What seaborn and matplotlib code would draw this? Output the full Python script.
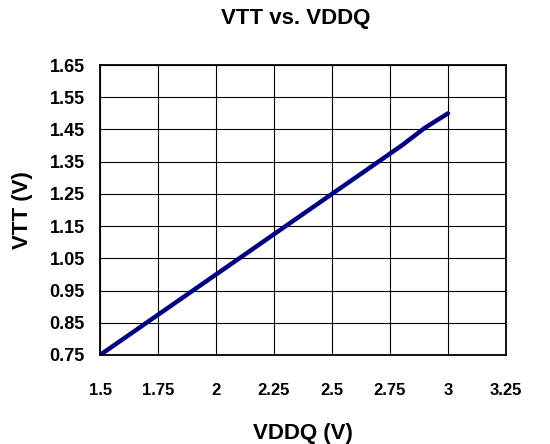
import matplotlib
matplotlib.use("Agg")
import matplotlib.pyplot as plt
import seaborn as sns
import pandas as pd

vddq = [1.5, 1.6, 1.7, 1.8, 1.9, 2.0, 2.1, 2.2, 2.3, 2.4, 2.5, 2.6, 2.7, 2.8, 2.9, 3.0]
vtt = [0.75, 0.80, 0.85, 0.90, 0.95, 1.00, 1.05, 1.10, 1.15, 1.20, 1.25, 1.30, 1.35, 1.40, 1.455, 1.50]
x_ticks = [1.5, 1.75, 2, 2.25, 2.5, 2.75, 3, 3.25]
x_labels = ["1.5", "1.75", "2", "2.25", "2.5", "2.75", "3", "3.25"]
y_ticks = [0.75, 0.85, 0.95, 1.05, 1.15, 1.25, 1.35, 1.45, 1.55, 1.65]
y_labels = ["0.75", "0.85", "0.95", "1.05", "1.15", "1.25", "1.35", "1.45", "1.55", "1.65"]

sns.set_theme(style="white")
plt.rcParams['font.family'] = ['Liberation Sans', 'DejaVu Sans']
plt.rcParams['text.color'] = 'black'
plt.rcParams['axes.labelcolor'] = 'black'
plt.rcParams['xtick.color'] = 'black'
plt.rcParams['ytick.color'] = 'black'

df = pd.DataFrame({"VDDQ": vddq, "VTT": vtt})

fig = plt.figure(figsize=(5.5, 4.44), dpi=100)
ax = fig.add_axes([0.182, 0.2005, 0.738, 0.653])
sns.lineplot(data=df, x="VDDQ", y="VTT", ax=ax, color="#000080", linewidth=3.2)

ax.set_xlim(1.5, 3.25)
ax.set_ylim(0.75, 1.65)
ax.set_xticks(x_ticks)
ax.set_xticklabels(x_labels, fontsize=12, fontweight="bold", color="black")
ax.set_yticks(y_ticks)
ax.set_yticklabels(y_labels, fontsize=13, fontweight="bold", color="black")
ax.tick_params(axis="x", length=0, pad=20, colors="black")
ax.tick_params(axis="y", length=0, pad=11, colors="black")
ax.grid(True, color="black", linewidth=0.8)
for s in ax.spines.values():
    s.set_color("black")
    s.set_linewidth(1.3)
    s.set_visible(True)

ax.set_xlabel("VDDQ (V)", fontsize=16, fontweight="bold", labelpad=18, color="black")
ax.set_ylabel("VTT (V)", fontsize=16, fontweight="bold", labelpad=12, color="black")
fig.text(0.537, 0.958, "VTT vs. VDDQ", fontsize=16, fontweight="bold", ha="center", va="center", color="black")

fig.savefig("out.png", dpi=100)
